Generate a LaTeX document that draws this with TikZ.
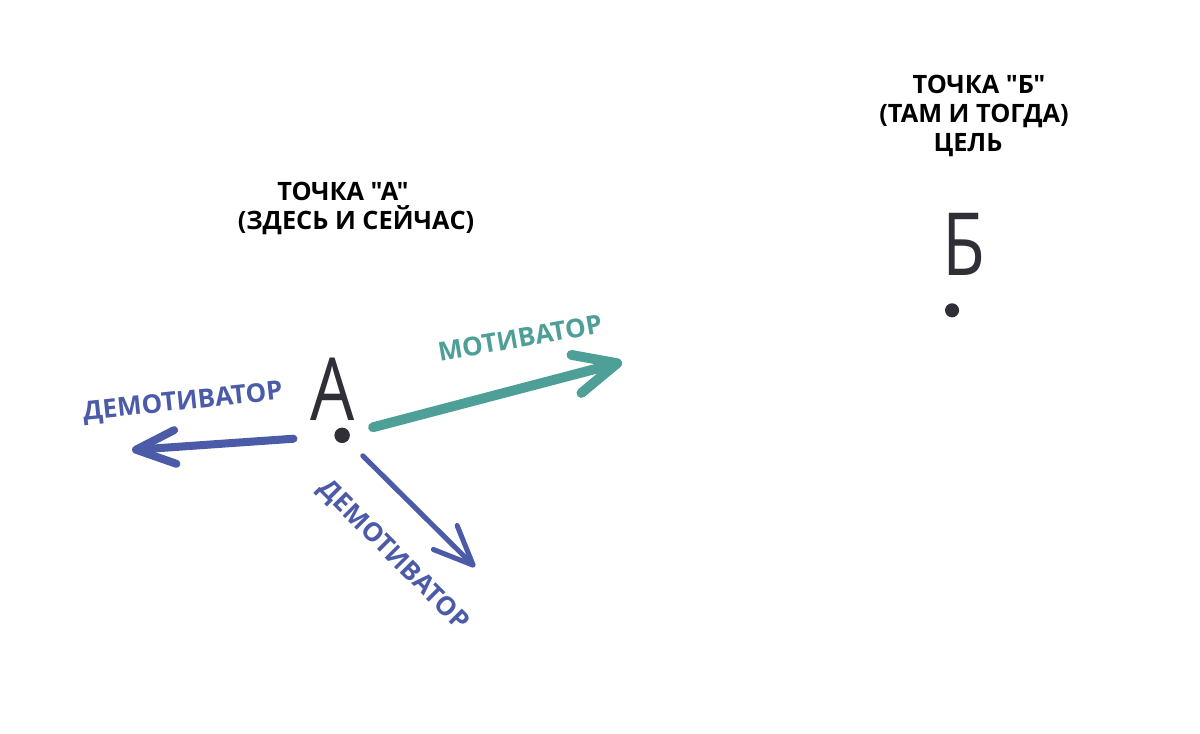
\documentclass[tikz,border=0pt]{standalone}
\usepackage{fontspec}
\usepackage{graphicx}
\setmainfont{Open Sans}[Ligatures=TeXOff]
\usetikzlibrary{positioning, arrows.meta}
\definecolor{tealpen}{HTML}{4E9F98}
\definecolor{bluepen}{HTML}{4B5BA8}
\definecolor{inkpen}{HTML}{2F2F38}
\newcommand{\penletter}[1]{\scalebox{0.8}[1]{#1}}
\tikzstyle{heading} = [font=\fontsize{18}{20}\selectfont\bfseries, inner sep=0pt, anchor=base]
\tikzstyle{tag} = [font=\fontsize{18.5}{20}\selectfont\bfseries, inner sep=0pt]
\tikzstyle{letter} = [font=\fontsize{62}{62}\selectfont, text=inkpen, inner sep=0pt, anchor=base]
\tikzstyle{dot} = [circle, fill=inkpen, inner sep=0pt, minimum size=11pt]
\tikzstyle{motarrow} = [tealpen, line width=7pt, line cap=round, -{Straight Barb[length=30pt,width=28pt,line join=round,line cap=round]}]
\tikzstyle{demarrow} = [bluepen, line width=5pt, line cap=round, -{Straight Barb[length=28pt,width=24pt,line join=round,line cap=round]}]

\begin{document}
\begin{tikzpicture}[x=0.025cm, y=-0.025cm]
            \useasboundingbox[fill=white] (0,0) rectangle (1200,734);

            % point A
            \node (titleA1) [heading] at (343,201) {ТОЧКА "А"};
            \node (titleA2) [heading] at (356,230) {(ЗДЕСЬ И СЕЙЧАС)};
            \node (letA) [letter] at (333,420) {\penletter{А}};
            \node (dotA) [dot, below=5pt of letA, xshift=6.5pt] {};

            % point B
            \node (titleB1) [heading] at (979,94) {ТОЧКА "Б"};
            \node (titleB2) [heading] at (974,123) {(ТАМ И ТОГДА)};
            \node (titleB3) [heading] at (968,152) {ЦЕЛЬ};
            \node (letB) [letter] at (964,276) {\penletter{Б}};
            \node (dotB) [dot, minimum size=10pt, below=19pt of letB, xshift=-8.5pt] {};

            % arrow ends
            \coordinate (motEnd) at (622,362);
            \coordinate (demEndL) at (132,450);
            \coordinate (demEndR) at (475,567);

            \draw [motarrow, shorten <=17pt] (dotA) -- (motEnd);
            \draw [demarrow, line width=5.7pt, shorten <=29pt] (dotA) -- (demEndL);
            \draw [demarrow, line width=3.6pt, shorten <=15pt] (dotA) -- (demEndR);

            \node (motTag) [tag, text=tealpen, rotate=10] at (520,338) {МОТИВАТОР};
            \node (demTagL) [tag, text=bluepen, rotate=6] at (183,403) {ДЕМОТИВАТОР};
            \node (demTagR) [tag, text=bluepen, rotate=-45] at (393,556) {ДЕМОТИВАТОР};

\end{tikzpicture}
\end{document}
